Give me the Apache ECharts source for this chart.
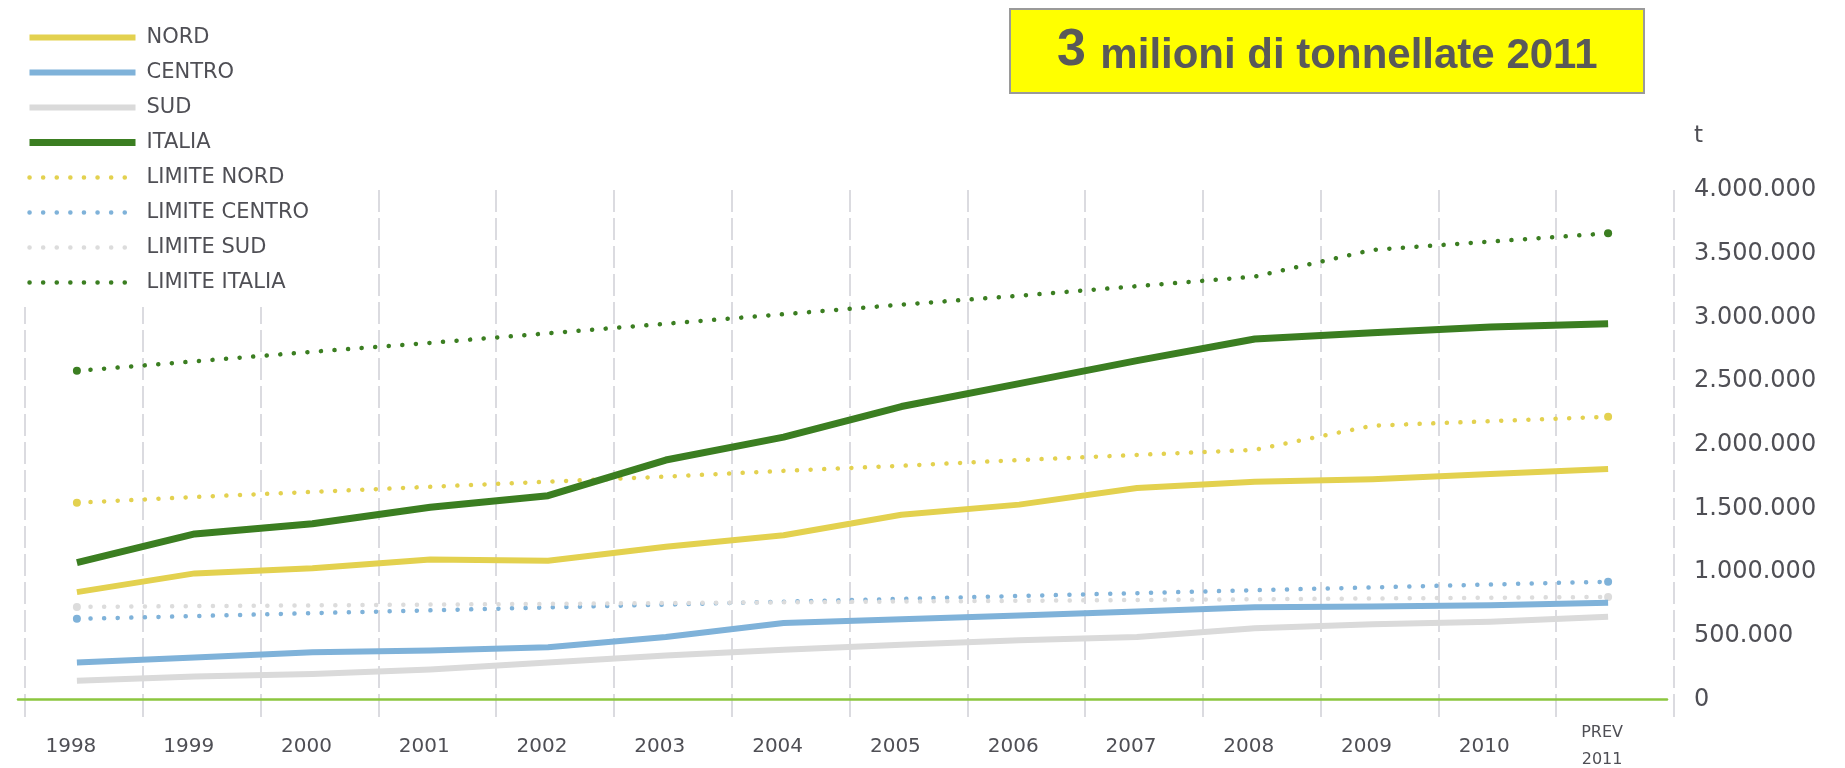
<!DOCTYPE html>
<html>
<head>
<meta charset="utf-8">
<script src="https://cdn.jsdelivr.net/npm/echarts@6/dist/echarts.min.js"></script>
<style>
html,body{margin:0;padding:0;background:#fff;}
#chart{width:1845px;height:768px;}
</style>
</head>
<body>
<div id="chart"></div>
<script>
// ---- data ----
const categories = ['1998','1999','2000','2001','2002','2003','2004','2005','2006','2007','2008','2009','2010','PREV\n2011'];
const seriesNames = ['NORD','CENTRO','SUD','ITALIA','LIMITE NORD','LIMITE CENTRO','LIMITE SUD','LIMITE ITALIA'];
const nord         = [843000, 990000, 1030000, 1100000, 1090000, 1200000, 1290000, 1450000, 1530000, 1660000, 1710000, 1730000, 1770000, 1810000];
const centro       = [290000, 330000, 370000, 385000, 410000, 490000, 600000, 630000, 660000, 690000, 725000, 730000, 740000, 760000];
const sud          = [148000, 180000, 200000, 235000, 290000, 345000, 390000, 430000, 465000, 490000, 560000, 590000, 610000, 650000];
const italia       = [1075000, 1300000, 1380000, 1510000, 1600000, 1880000, 2060000, 2300000, 2480000, 2660000, 2830000, 2880000, 2925000, 2950000];
const limiteNord   = [1545000, 1590000, 1630000, 1670000, 1710000, 1750000, 1795000, 1835000, 1880000, 1920000, 1960000, 2150000, 2185000, 2220000];
const limiteCentro = [633000, 655000, 678000, 700000, 723000, 745000, 768000, 790000, 813000, 835000, 858000, 880000, 903000, 925000];
const limiteSud    = [727000, 733000, 739000, 745000, 751000, 757000, 763000, 769000, 775000, 781000, 787000, 793000, 799000, 805000];
const limiteItalia = [2580000, 2655000, 2730000, 2800000, 2875000, 2950000, 3025000, 3100000, 3170000, 3245000, 3320000, 3530000, 3595000, 3660000];
const yMin = 0, yMax = 4000000, yStep = 500000;
const titleNumber = '3';
const titleRest = 'milioni di tonnellate 2011';
const unitName = 't';

// ---- styling ----
const C = { nord:'#e3d14f', centro:'#7fb2d9', sud:'#dadada', italia:'#3b7e21' };
const FONT = 'DejaVu Sans';
const TXT = '#4f4f55';

function solid(name, data, color, width) {
  return { type:'line', name, data, xAxisIndex:0, yAxisIndex:0, symbol:'none',
    lineStyle:{ color, width, cap:'butt', join:'round' }, itemStyle:{ color }, z:4, silent:true };
}
function dotted(name, data, color) {
  const last = data.length - 1;
  return { type:'line', name, xAxisIndex:0, yAxisIndex:0,
    data: data.map((v, i) => ({ value: v, symbolSize: (i === 0 || i === last) ? 8 : 0 })),
    symbol:'circle', showSymbol:true, symbolSize:0,
    lineStyle:{ color, width:4.5, type:[0.1, 13.5], cap:'round' }, itemStyle:{ color }, z:3, silent:true };
}
function fmt(v) { return String(v).replace(/\B(?=(\d{3})+(?!\d))/g, '.'); }

const chart = echarts.init(document.getElementById('chart'), null, { renderer:'canvas' });
chart.setOption({
  backgroundColor:'#fff',
  animation:false,
  title:{
    text:'{a|' + titleNumber + ' }{b|' + titleRest + '}',
    left:1010, top:9, padding:[16, 47, 16, 47],
    backgroundColor:'#ffff00', borderColor:'#9a9a9a', borderWidth:2,
    textStyle:{ rich:{
      a:{ fontFamily:'Liberation Sans', fontWeight:'bold', fontSize:52, color:'#595959', verticalAlign:'bottom' },
      b:{ fontFamily:'Liberation Sans', fontWeight:'bold', fontSize:42, color:'#595959', verticalAlign:'bottom' }
    }}
  },
  legend:{
    orient:'vertical', left:18, top:19, data:seriesNames,
    itemWidth:106, itemHeight:14, itemGap:14,
    padding:[8, 14, 14, 8], backgroundColor:'#fff', z:10,
    lineStyle:{ width:'inherit' },
    itemStyle:{ opacity:0, borderWidth:0 },
    textStyle:{ fontFamily:FONT, fontSize:21, color:TXT, padding:[0, 0, 0, 6] }
  },
  grid:[
    { left:18, right:178, top:190, bottom:66 },
    { left:25, right:171, top:190, bottom:66 }
  ],
  xAxis:[
    { gridIndex:0, type:'category', data:categories, boundaryGap:true,
      axisLine:{ show:true, lineStyle:{ color:'#8cc63f', width:2.5 } },
      axisTick:{ show:false }, splitLine:{ show:false },
      axisLabel:{ interval:0, margin:47, verticalAlign:'middle', fontFamily:FONT, fontSize:20, color:TXT,
        padding:[0, 12, 0, 0],
        formatter: v => v.indexOf('\n') >= 0 ? v.split('\n').map(s => '{p|' + s + '}').join('\n') : v,
        rich:{ p:{ fontFamily:FONT, fontSize:16, lineHeight:27, color:TXT } } } },
    { gridIndex:1, type:'category', data:categories, boundaryGap:true,
      axisLine:{ show:false },
      axisTick:{ show:true, length:15, lineStyle:{ color:'#cfcfd6', width:1.5 } },
      axisLabel:{ show:false },
      splitLine:{ show:true, lineStyle:{ color:'#cfcfd6', width:1.5, type:[22, 6] } } }
  ],
  yAxis:[
    { gridIndex:0, type:'value', position:'right', min:yMin, max:yMax, interval:yStep,
      axisLine:{ show:false }, axisTick:{ show:false }, splitLine:{ show:false },
      axisLabel:{ margin:27, fontFamily:FONT, fontSize:24, color:TXT, formatter: fmt },
      name:unitName, nameLocation:'end', nameGap:42,
      nameTextStyle:{ align:'left', fontFamily:FONT, fontSize:23, color:TXT, padding:[0, 0, 0, 27] } },
    { gridIndex:1, type:'value', min:yMin, max:yMax, interval:yStep, show:false,
      splitLine:{ show:false } }
  ],
  series:[
    solid(seriesNames[0], nord, C.nord, 6),
    solid(seriesNames[1], centro, C.centro, 6),
    solid(seriesNames[2], sud, C.sud, 6),
    solid(seriesNames[3], italia, C.italia, 7),
    dotted(seriesNames[4], limiteNord, C.nord),
    dotted(seriesNames[5], limiteCentro, C.centro),
    dotted(seriesNames[6], limiteSud, '#dcdcdc'),
    dotted(seriesNames[7], limiteItalia, C.italia)
  ]
});
</script>
</body>
</html>
